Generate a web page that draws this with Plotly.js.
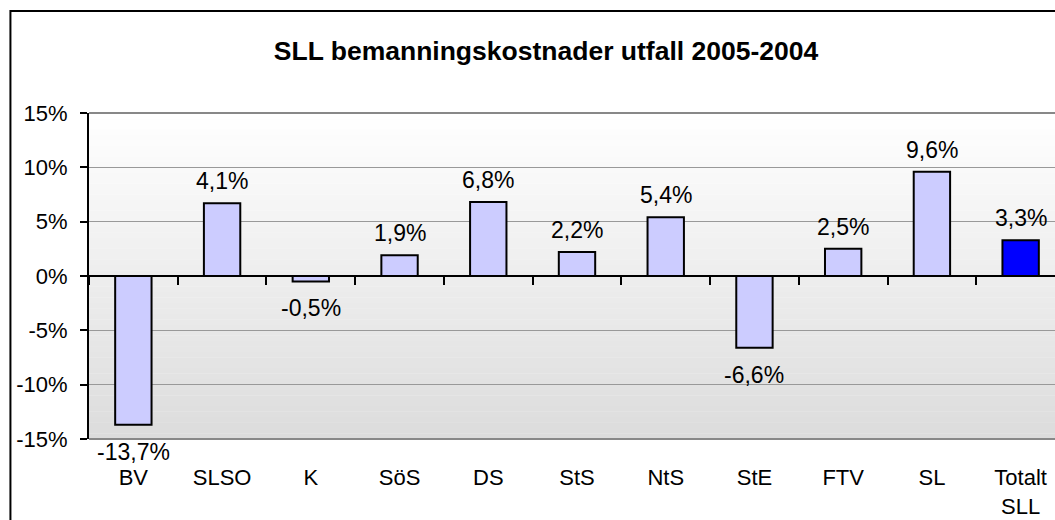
<!DOCTYPE html>
<html><head><meta charset="utf-8">
<script src="https://cdn.plot.ly/plotly-3.0.1.min.js"></script>
<style>html,body{margin:0;padding:0;overflow:hidden;background:#fff;width:1055px;height:520px}#chart{width:1075px;height:520px}</style>
</head><body><div id="chart"></div>
<script>
const categories = ['BV','SLSO','K','SöS','DS','StS','NtS','StE','FTV','SL','Totalt SLL'];
const categoryLabels = ['BV','SLSO','K','SöS','DS','StS','NtS','StE','FTV','SL','Totalt<br>SLL'];
// bar heights as drawn in the picture (SLSO bar is drawn taller than its label)
const barHeights = [-13.7, 6.7, -0.5, 1.9, 6.8, 2.2, 5.4, -6.6, 2.5, 9.6, 3.3];
// data labels as printed
const labelValues = [-13.7, 4.1, -0.5, 1.9, 6.8, 2.2, 5.4, -6.6, 2.5, 9.6, 3.3];
const barColors = ['#ccccff','#ccccff','#ccccff','#ccccff','#ccccff','#ccccff','#ccccff','#ccccff','#ccccff','#ccccff','#0000ff'];
const yTickVals = [-15, -10, -5, 0, 5, 10, 15];
const yTickText = ['-15%', '-10%', '-5%', '0%', '5%', '10%', '15%'];
const chartTitle = 'SLL bemanningskostnader utfall 2005-2004';

const FONT = 'Liberation Sans, Arial, sans-serif';
const fmt = v => v.toFixed(1).replace('.', ',') + '%';

const W = 1075, H = 520;
const mL = 88.6, mR = 10, mT = 113, mB = 81;
const plotW = W - mL - mR, plotH = H - mT - mB;

// gradient background
const shapes = [];
const N = 60;
for (let i = 0; i < N; i++) {
  const t = (i + 0.5) / N; // 0 bottom -> 1 top
  const c = Math.round(0xdc + (0xff - 0xdc) * t);
  const hex = '#' + c.toString(16).repeat(3);
  shapes.push({type:'rect', xref:'paper', yref:'paper', x0:0, x1:1, y0:i/N, y1:(i+1)/N + 0.001,
    fillcolor:hex, line:{width:0}, layer:'below'});
}
// plot frame top/bottom
shapes.push({type:'line', xref:'paper', yref:'paper', x0:0, x1:1, y0:1, y1:1, line:{color:'#888', width:2}});
shapes.push({type:'line', xref:'paper', yref:'paper', x0:0, x1:1, y0:0, y1:0, line:{color:'#888', width:2}});
// chart outer border
shapes.push({type:'rect', xref:'paper', yref:'paper',
  x0:(10 - mL) / plotW, x1:1.2, y0:-0.5, y1:1 + (mT - 11) / plotH,
  line:{color:'#000', width:2}, fillcolor:'rgba(0,0,0,0)'});

const annotations = barHeights.map((h, i) => ({
  x: categories[i], y: h, xref:'x', yref:'y', text: fmt(labelValues[i]), showarrow:false,
  yanchor:'middle', yshift: h >= 0 ? 22 : -27,
  font:{family:FONT, size:23, color:'#000'}
}));

const traces = [
  {type:'bar', x:categories, y:barHeights, xaxis:'x', yaxis:'y',
   marker:{color:barColors, line:{color:'#000', width:2}}, hoverinfo:'x+y', cliponaxis:false},
  {type:'scatter', mode:'markers', x:categories, y:barHeights, xaxis:'x2', yaxis:'y',
   marker:{opacity:0}, hoverinfo:'skip', showlegend:false}
];

const layout = {
  width: W, height: H,
  margin:{l:mL, r:mR, t:mT, b:mB, pad:0},
  paper_bgcolor:'#fff', plot_bgcolor:'rgba(0,0,0,0)',
  showlegend:false,
  bargap:0.59,
  font:{family:FONT, size:22, color:'#000'},
  title:{text:chartTitle, font:{family:FONT, size:26.5, weight:'bold', color:'#000'},
    xref:'container', x:546 / W, xanchor:'center', yref:'container', y:1 - 51 / H, yanchor:'middle'},
  xaxis:{type:'category', range:[-0.5, 10.5], anchor:'free', position:0.5,
    showline:true, linecolor:'#000', linewidth:2, ticks:'outside', tickson:'boundaries',
    ticklen:8, tickwidth:2, tickcolor:'#000', showticklabels:false, showgrid:false, zeroline:false, fixedrange:true},
  xaxis2:{type:'category', range:[-0.5, 10.5], overlaying:'x', anchor:'y', side:'bottom',
    tickvals:categories, ticktext:categoryLabels, ticks:'', showline:false, showgrid:false, zeroline:false,
    tickfont:{family:FONT, size:22, color:'#000'}, ticklabelstandoff:23, fixedrange:true},
  yaxis:{range:[-15, 15], tickvals:yTickVals, ticktext:yTickText, showline:true, linecolor:'#000', linewidth:2,
    ticks:'outside', ticklen:7, tickwidth:2, tickcolor:'#000', showgrid:true, gridcolor:'#999', gridwidth:1,
    zeroline:false, tickfont:{family:FONT, size:22, color:'#000'}, ticklabelstandoff:8, fixedrange:true},
  shapes: shapes,
  annotations: annotations
};

Plotly.newPlot('chart', traces, layout, {displayModeBar:false, staticPlot:true});
</script>
</body></html>
